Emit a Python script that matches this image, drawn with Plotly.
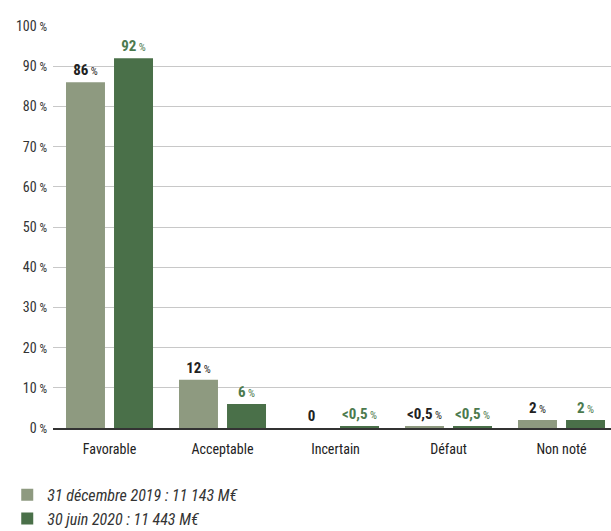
import plotly.graph_objects as go

categories = ["Favorable", "Acceptable", "Incertain", "Défaut", "Non noté"]
series_names = ["31 décembre 2019 : 11 143 M€", "30 juin 2020 : 11 443 M€"]
values_2019 = [86, 12, 0, 0.4, 2]
values_2020 = [92, 6, 0.4, 0.4, 2]
labels_2019 = ["86", "12", "0", "<0,5", "2"]
labels_2020 = ["92", "6", "<0,5", "<0,5", "2"]
pct_2019 = [True, True, False, True, True]
pct_2020 = [True, True, True, True, True]
y_ticks = [0, 10, 20, 30, 40, 50, 60, 70, 80, 90, 100]
y_tick_text = [f"{v}<span style='font-size:12px'> %</span>" for v in y_ticks]

FONT = "Roboto Condensed, Liberation Sans Narrow, sans-serif"
LIGHT = "#8E9A80"
DARK = "#4A7049"
LBL_DARK = "#222222"
LBL_GREEN = "#4C7A4E"


def fmt(lbls, pcts):
    out = []
    for l, p in zip(lbls, pcts):
        s = "<b>" + l + "</b>"
        if p:
            s += "<span style='font-size:11px;font-weight:normal'> %</span>"
        out.append(s)
    return out


fig = go.Figure()
fig.add_trace(go.Bar(
    x=categories, y=values_2019, name="<i>" + series_names[0] + "</i>",
    marker=dict(color=LIGHT, line=dict(width=0)),
    width=0.345, offset=-0.385,
    text=fmt(labels_2019, pct_2019), textposition="outside",
    textfont=dict(family=FONT, size=15, color=LBL_DARK),
    cliponaxis=False, legendgroup="a",
))
fig.add_trace(go.Bar(
    x=categories, y=values_2020, name="<i>" + series_names[1] + "</i>",
    marker=dict(color=DARK, line=dict(width=0)),
    width=0.345, offset=0.04,
    text=fmt(labels_2020, pct_2020), textposition="outside",
    textfont=dict(family=FONT, size=15, color=LBL_GREEN),
    cliponaxis=False, legendgroup="b",
))

fig.update_layout(
    width=611, height=531,
    margin=dict(l=53, r=0, t=26, b=103, autoexpand=False),
    paper_bgcolor="white", plot_bgcolor="white",
    barmode="overlay",
    font=dict(family=FONT, size=13, color="#333333"),
    showlegend=True,
    legend=dict(
        x=-0.082, xanchor="left", y=-0.124, yanchor="top",
        orientation="v", font=dict(family=FONT, size=16, color="#333333"),
        tracegroupgap=0, bgcolor="rgba(0,0,0,0)",
    ),
    xaxis=dict(
        range=[-0.5, 4.438], showgrid=False, showline=True,
        linecolor="#333333", linewidth=1.5, ticks="",
        tickfont=dict(family=FONT, size=14, color="#222222"),
        ticklabelstandoff=7, fixedrange=True, automargin=False,
    ),
    yaxis=dict(
        range=[0, 100], tickvals=y_ticks, ticktext=y_tick_text,
        showgrid=True, gridcolor="#C8C8C8", gridwidth=1,
        zeroline=False, showline=False, ticks="",
        tickfont=dict(family=FONT, size=14, color="#333333"),
        ticklabelstandoff=5, fixedrange=True, automargin=False,
    ),
)

fig.write_html("out.html")
